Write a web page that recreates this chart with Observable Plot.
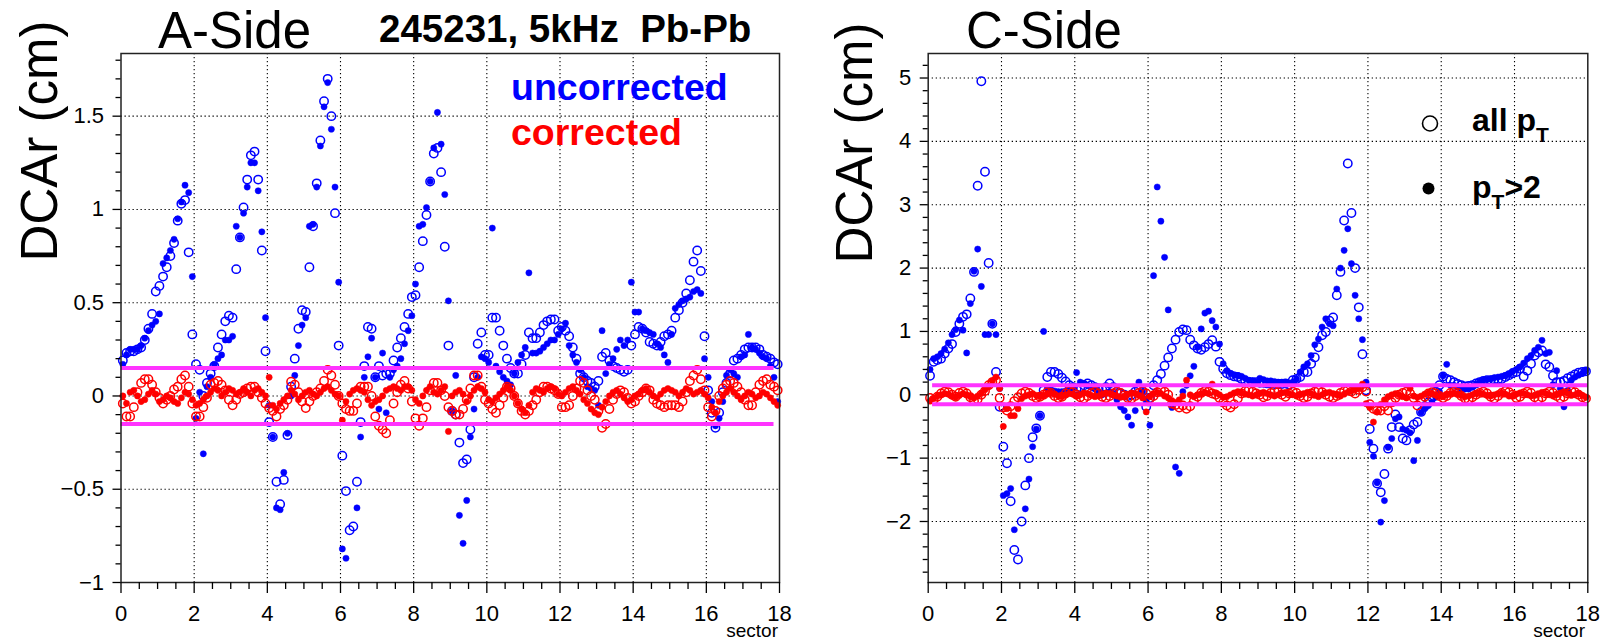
<!DOCTYPE html>
<html><head><meta charset="utf-8">
<script src="https://cdn.jsdelivr.net/npm/d3@7"></script>
<script src="https://cdn.jsdelivr.net/npm/@observablehq/plot@0.6"></script>
<style>
html,body{margin:0;padding:0;background:#fff;}
#wrap{position:relative;width:1600px;height:641px;overflow:hidden;background:#fff;}
.panel{position:absolute;top:0;width:800px;height:641px;}
</style></head>
<body><div id="wrap"><div id="pa" class="panel" style="left:0"></div><div id="pc" class="panel" style="left:800px"></div></div>
<script>
// ---------- data (DCAr in cm, 10 bins per sector, bins of 0.1 sector) ----------
const BIN = 0.1;
const sectorTicks = [0, 2, 4, 6, 8, 10, 12, 14, 16, 18];
const sectorMinor = [0.5,1,1.5,2.5,3,3.5,4.5,5,5.5,6.5,7,7.5,8.5,9,9.5,10.5,11,11.5,12.5,13,13.5,14.5,15,15.5,16.5,17,17.5];
const sectorGrid = [2, 4, 6, 8, 10, 12, 14, 16];

const A_yTicks = [-1, -0.5, 0, 0.5, 1, 1.5];
const A_yGrid = [-0.5, 0, 0.5, 1, 1.5];
const A_yMinor = [-0.9,-0.8,-0.7,-0.6,-0.4,-0.3,-0.2,-0.1,0.1,0.2,0.3,0.4,0.6,0.7,0.8,0.9,1.1,1.2,1.3,1.4,1.6,1.7,1.8];
const C_yTicks = [-2, -1, 0, 1, 2, 3, 4, 5];
const C_yGrid = [-2, -1, 0, 1, 2, 3, 4, 5];
const C_yMinor = [-2.8,-2.6,-2.4,-2.2,-1.8,-1.6,-1.4,-1.2,-0.8,-0.6,-0.4,-0.2,0.2,0.4,0.6,0.8,1.2,1.4,1.6,1.8,2.2,2.4,2.6,2.8,3.2,3.4,3.6,3.8,4.2,4.4,4.6,4.8,5.2];

// A-Side, uncorrected, all pT (open blue)
const A_uncorr_all = [
 0.19,0.23,0.24,0.24,0.25,0.26,0.30,0.36,0.44,0.56,
 0.59,0.64,0.69,0.75,0.82,0.94,1.03,1.05,0.77,0.33,
 0.17,0.14,0.00,0.07,0.12,0.16,0.26,0.33,0.40,0.43,
 0.42,0.68,0.85,1.01,1.16,1.29,1.31,1.16,0.78,0.24,
 -0.14,-0.22,-0.46,-0.58,-0.45,-0.21,0.05,0.20,0.36,0.46,
 0.45,0.69,0.91,1.14,1.37,1.58,1.70,1.50,0.98,0.27,
 -0.32,-0.51,-0.72,-0.70,-0.46,-0.14,0.16,0.37,0.36,0.10,
 0.16,0.11,0.12,0.12,0.19,0.26,0.31,0.37,0.44,0.53,
 0.54,0.69,0.83,0.97,1.15,1.30,1.33,1.20,0.80,0.27,
 -0.08,-0.10,-0.25,-0.36,-0.34,-0.18,0.10,0.28,0.34,0.22,
 0.22,0.42,0.42,0.35,0.27,0.20,0.15,0.12,0.12,0.17,
 0.22,0.34,0.31,0.31,0.34,0.38,0.40,0.41,0.41,0.35,
 0.37,0.35,0.32,0.26,0.20,0.12,0.10,0.08,0.07,0.05,
 0.08,0.21,0.23,0.19,0.16,0.15,0.14,0.13,0.14,0.27,
 0.33,0.37,0.36,0.34,0.29,0.28,0.27,0.29,0.32,0.33,
 0.35,0.42,0.46,0.50,0.55,0.62,0.72,0.78,0.67,0.32,
 0.03,-0.09,-0.17,-0.09,0.02,0.07,0.12,0.19,0.20,0.22,
 0.25,0.26,0.26,0.26,0.25,0.22,0.21,0.20,0.18,0.17];
// A-Side, uncorrected, pT>2 (filled blue)
const A_uncorr_pt2 = [
 0.17,0.22,0.25,0.25,0.25,0.27,0.31,0.35,0.38,0.40,
 0.44,0.71,0.74,0.78,0.84,0.95,1.04,1.13,1.09,0.64,
 -0.12,0.02,-0.31,0.05,0.10,0.17,0.20,0.22,0.30,0.30,
 0.32,0.91,0.85,0.98,1.12,1.25,1.25,1.10,0.88,0.42,
 -0.05,-0.22,-0.60,-0.61,-0.41,-0.20,0.00,0.11,0.27,0.38,
 0.42,0.91,0.92,1.12,1.34,1.55,1.68,1.43,1.12,0.61,
 -0.82,-0.87,null,null,-0.60,-0.22,0.10,0.21,0.31,0.10,
 -0.07,0.23,-0.09,0.10,0.14,0.16,0.20,0.28,0.35,0.43,
 0.60,0.91,0.92,1.01,1.15,1.33,1.52,1.35,1.08,0.51,
 -0.08,0.11,-0.64,-0.79,-0.56,-0.22,-0.07,0.10,0.21,0.20,
 0.18,0.90,0.16,0.13,0.10,0.08,0.06,0.12,0.18,0.22,
 0.26,0.66,0.23,0.23,0.24,0.26,0.28,0.30,0.30,0.33,
 0.36,0.39,0.27,0.22,0.18,0.14,0.10,0.05,0.04,0.03,
 -0.05,0.35,0.12,0.17,0.20,0.25,0.30,0.27,0.30,0.61,
 0.45,0.45,0.36,0.35,0.34,0.33,0.28,0.26,0.22,0.18,
 0.33,0.47,0.49,0.51,0.52,0.53,0.56,0.57,0.55,0.20,
 0.10,-0.03,-0.16,-0.12,-0.03,0.11,0.14,0.12,0.10,0.21,
 0.22,0.33,0.26,0.25,0.23,0.21,0.20,0.16,0.10,-0.03];
// A-Side, corrected, all pT (open red)
const A_corr_all = [
 -0.04,-0.11,-0.11,-0.06,0.02,0.07,0.09,0.09,0.06,0.02,
 -0.01,-0.04,-0.02,0.00,0.035,0.05,0.09,0.11,0.05,-0.04,
 -0.11,-0.11,-0.06,-0.01,0.06,0.07,0.08,0.06,0.03,-0.02,
 -0.05,-0.02,0.01,0.02,0.04,0.05,0.05,0.02,-0.01,-0.04,
 -0.065,-0.08,-0.11,-0.07,-0.05,-0.02,0.076,0.06,0.02,-0.03,
 -0.065,-0.03,0.00,0.02,0.04,0.08,0.14,0.11,0.06,0.00,
 -0.04,-0.07,-0.08,-0.08,-0.04,0.05,0.05,0.05,0.00,-0.11,
 -0.16,-0.18,-0.20,-0.13,-0.04,0.02,0.06,0.08,0.04,-0.03,
 -0.12,-0.16,-0.12,-0.06,0.03,0.07,0.07,0.03,0.00,-0.06,
 -0.08,-0.10,-0.10,-0.07,-0.02,0.04,0.11,0.11,0.05,-0.02,
 -0.04,-0.07,-0.09,-0.05,-0.01,0.05,0.04,0.00,-0.04,-0.08,
 -0.10,-0.08,-0.05,-0.02,0.02,0.05,0.05,0.04,0.03,0.01,
 -0.06,-0.06,-0.05,0.00,0.04,0.08,0.07,0.03,0.00,-0.02,
 -0.08,-0.17,-0.15,-0.07,-0.02,0.01,0.03,0.02,-0.01,-0.04,
 -0.03,0.00,0.02,0.04,0.03,-0.02,-0.04,-0.05,-0.06,-0.05,
 -0.05,-0.05,-0.06,-0.03,0.02,0.08,0.11,0.14,0.09,0.03,
 -0.06,-0.11,-0.08,0.00,0.04,0.06,0.08,0.07,0.05,0.02,
 -0.02,-0.05,-0.05,0.02,0.06,0.08,0.09,0.06,0.05,0.03];
// A-Side, corrected, pT>2 (filled red)
const A_corr_pt2 = [
 0.00,-0.04,0.02,0.03,0.00,-0.03,-0.02,0.01,0.03,0.01,
 -0.03,-0.02,0.00,-0.01,-0.03,-0.04,-0.01,0.02,0.01,-0.02,
 -0.05,-0.04,-0.02,0.00,0.02,0.04,0.03,0.00,0.02,0.04,
 0.03,0.01,0.02,0.04,0.02,0.00,0.03,0.04,0.02,0.00,
 0.10,-0.05,-0.07,-0.04,-0.02,0.00,0.03,0.01,-0.02,0.00,
 0.02,0.03,0.01,0.00,0.02,0.04,0.05,0.03,0.01,0.00,
 -0.13,-0.03,0.01,0.03,0.04,0.03,0.02,-0.02,-0.05,-0.03,
 -0.02,0.00,0.03,0.04,0.05,0.04,0.03,0.05,0.05,0.03,
 -0.02,-0.04,0.00,0.03,0.05,0.02,0.01,0.03,0.05,-0.19,
 0.00,0.02,0.03,0.01,-0.03,0.00,0.03,0.05,0.04,0.02,
 -0.02,-0.03,-0.01,0.01,0.03,0.05,0.03,0.00,-0.04,-0.07,
 -0.09,-0.05,0.02,0.04,0.03,0.02,0.04,0.05,0.04,0.01,
 0.00,0.02,0.04,0.05,0.03,0.01,-0.02,-0.04,-0.07,-0.09,
 -0.10,-0.06,-0.03,0.00,0.02,0.03,0.01,-0.01,-0.03,-0.02,
 0.00,0.01,0.03,0.04,0.02,0.00,-0.01,0.01,0.03,0.04,
 0.03,0.02,0.00,0.02,0.04,0.03,0.01,0.02,0.03,0.01,
 -0.01,-0.06,-0.09,-0.03,0.00,0.02,0.04,0.02,0.00,-0.02,
 0.00,0.02,0.01,-0.01,0.00,0.02,0.01,-0.01,-0.03,-0.05];

// C-Side, uncorrected, all pT (open blue)
const C_uncorr_all = [
 0.30,0.52,0.55,0.57,0.65,0.73,0.80,0.99,1.12,1.23,
 1.27,1.52,1.94,3.30,4.95,3.52,2.08,1.12,0.36,-0.19,
 -0.82,-1.08,-1.68,-2.45,-2.60,-2.00,-1.43,-1.00,-0.67,-0.53,
 -0.33,0.07,0.28,0.36,0.36,0.33,0.27,0.21,0.15,0.12,
 0.10,0.12,0.15,0.18,0.15,0.12,0.10,0.08,0.12,0.18,
 0.12,0.05,0.02,0.00,-0.02,0.00,0.05,0.10,0.05,-0.19,
 -0.05,0.15,0.23,0.33,0.46,0.59,0.73,0.87,0.99,1.03,
 1.02,0.87,0.78,0.73,0.71,0.75,0.80,0.86,0.76,0.52,
 0.41,0.34,0.31,0.29,0.28,0.25,0.22,0.20,0.20,0.20,
 0.19,0.19,0.18,0.18,0.17,0.17,0.17,0.18,0.16,0.23,
 0.25,0.28,0.36,0.36,0.49,0.59,0.75,0.94,0.99,1.17,
 1.22,1.57,1.94,2.75,3.65,2.87,2.00,1.38,0.64,0.07,
 -0.54,-0.85,-1.40,-1.54,-1.25,-0.85,-0.51,-0.31,-0.51,-0.69,
 -0.72,-0.56,-0.47,-0.43,-0.27,-0.18,-0.12,-0.04,0.05,0.15,
 0.29,0.25,0.23,0.20,0.17,0.15,0.13,0.14,0.15,0.18,
 0.20,0.22,0.23,0.23,0.24,0.24,0.25,0.28,0.31,0.34,
 0.36,0.41,0.29,0.38,0.49,0.62,0.67,0.70,0.48,0.44,
 0.30,0.20,0.20,0.22,0.26,0.29,0.32,0.35,0.36,0.37];
// C-Side, uncorrected, pT>2 (filled blue)
const C_uncorr_pt2 = [
 0.40,0.57,0.60,0.65,0.72,0.82,0.95,1.03,1.18,1.02,
 0.66,1.44,1.95,2.30,1.71,0.95,0.95,1.12,0.95,0.10,
 -1.59,-1.56,-1.48,-2.13,null,null,-1.80,-1.33,-0.82,-0.54,
 -0.33,1.00,0.10,0.08,0.06,0.05,0.05,0.06,0.08,0.12,
 0.35,0.20,0.18,0.15,0.12,0.10,0.05,0.00,0.02,0.05,
 0.02,-0.08,-0.19,-0.25,-0.35,-0.48,-0.25,0.20,0.05,-0.10,
 -0.48,1.88,3.28,2.74,2.17,1.34,-0.20,-1.14,-1.24,0.05,
 0.15,0.30,0.45,0.75,1.04,1.29,1.32,1.17,1.07,0.80,
 0.49,0.38,0.34,0.31,0.30,0.29,0.26,0.23,0.22,0.20,
 0.26,0.24,0.22,0.22,0.21,0.20,0.20,0.19,0.18,0.20,
 0.25,0.36,0.44,0.49,0.62,0.79,0.88,1.07,1.20,1.12,
 1.09,1.67,2.00,2.28,2.62,2.07,1.57,1.20,0.87,0.20,
 -0.75,-0.97,-1.39,-2.01,-1.67,-0.83,-0.69,-0.38,-0.35,-0.54,
 -0.56,-0.60,-1.04,-0.72,-0.28,-0.22,-0.17,-0.12,-0.04,0.05,
 0.30,0.48,0.15,0.15,0.12,0.09,0.09,0.09,0.12,0.17,
 0.20,0.23,0.24,0.25,0.27,0.28,0.29,0.30,0.32,0.37,
 0.40,0.44,0.50,0.57,0.62,0.70,0.75,0.86,0.65,0.67,
 0.16,0.38,0.10,-0.19,0.07,0.23,0.28,0.31,0.34,0.38];
// C-Side, corrected, all pT (open red)
const C_corr_all = [
 -0.05,-0.08,-0.03,0.02,0.05,0.04,0.00,-0.03,0.03,0.05,
 0.02,-0.04,-0.10,-0.07,0.00,0.06,0.15,0.20,0.23,-0.05,
 -0.20,-0.25,-0.18,-0.10,-0.04,0.02,0.05,0.03,-0.02,-0.05,
 -0.03,0.00,0.04,0.03,-0.02,-0.05,-0.03,0.02,0.06,0.04,
 0.00,-0.04,-0.06,-0.02,0.03,0.05,0.02,-0.03,-0.05,-0.02,
 0.02,0.05,0.03,-0.01,-0.05,-0.06,-0.02,0.03,0.06,0.02,
 -0.06,-0.02,0.04,0.08,0.05,0.00,-0.14,-0.16,-0.20,-0.17,
 -0.22,-0.18,-0.10,-0.03,0.03,0.06,0.05,0.02,0.00,-0.05,
 -0.12,-0.17,-0.20,-0.15,-0.06,0.02,0.06,0.08,0.05,0.02,
 0.00,-0.04,-0.02,0.03,0.06,0.04,0.00,-0.03,0.02,0.05,
 0.03,-0.02,-0.05,-0.03,0.02,0.05,0.07,0.04,0.00,-0.03,
 -0.05,-0.02,0.03,0.06,0.08,0.05,0.02,0.08,0.12,0.05,
 -0.15,-0.22,-0.25,-0.25,-0.18,-0.25,-0.12,-0.05,0.00,0.03,
 0.05,0.02,-0.05,-0.17,-0.10,-0.03,0.02,0.04,0.02,-0.02,
 -0.05,-0.02,0.03,0.05,0.03,-0.02,-0.06,-0.08,-0.04,0.00,
 0.03,0.05,0.02,-0.03,-0.06,-0.02,0.03,0.06,0.04,0.00,
 -0.05,-0.03,0.02,0.05,0.03,-0.04,-0.08,-0.04,0.02,0.05,
 0.03,-0.02,-0.06,-0.03,0.02,0.06,0.04,0.00,-0.04,-0.06];
// C-Side, corrected, pT>2 (filled red)
const C_corr_pt2 = [
 -0.10,-0.06,-0.02,0.00,0.02,0.01,-0.02,-0.04,-0.01,0.02,
 0.00,-0.03,-0.05,-0.02,0.02,0.08,0.14,0.22,0.28,0.10,
 -0.50,-0.22,-0.33,-0.33,-0.22,-0.06,-0.02,0.00,0.02,-0.01,
 -0.03,-0.01,0.02,0.03,0.01,-0.02,-0.03,0.00,0.02,0.01,
 -0.02,0.00,0.03,0.02,-0.01,-0.03,-0.02,0.01,0.03,0.02,
 0.00,-0.02,-0.04,-0.02,0.01,0.03,0.02,-0.01,-0.05,-0.27,
 -0.03,0.02,0.04,0.02,-0.02,-0.05,-0.09,-0.12,-0.08,-0.02,
 0.23,0.00,-0.03,0.00,0.02,0.04,0.02,0.17,0.03,0.00,
 -0.04,-0.03,0.00,0.03,0.05,0.03,0.01,0.00,-0.02,0.00,
 0.02,0.04,0.02,0.00,-0.02,0.00,0.03,0.04,0.02,0.00,
 -0.02,0.00,0.02,0.04,0.02,-0.01,-0.03,0.00,0.03,0.04,
 0.02,0.00,-0.02,0.01,0.04,0.06,0.08,0.10,0.17,-0.14,
 -0.20,-0.43,-0.27,-0.15,-0.08,-0.03,0.00,0.02,0.00,-0.03,
 -0.05,0.10,-0.02,-0.04,-0.02,0.01,0.03,0.02,0.00,-0.02,
 -0.03,0.00,0.02,0.03,0.01,-0.01,-0.03,-0.02,0.00,0.02,
 0.03,0.01,-0.01,-0.02,0.00,0.02,0.03,0.01,-0.02,-0.01,
 0.01,0.03,0.02,0.00,-0.02,-0.01,0.02,0.04,0.02,0.00,
 -0.02,0.00,0.03,0.05,0.02,-0.01,0.00,0.02,-0.01,-0.04];

// tolerance band (±0.15 cm)
const A_band = [{y: 0.15, x1: 0, x2: 17.85}, {y: -0.15, x1: 0, x2: 17.85}];
const C_band = [{y: 0.15, x1: 0.12, x2: 18}, {y: -0.15, x1: 0.12, x2: 18}];

// ---------- drawing ----------
const FONT = "'Liberation Sans', Arial, Helvetica, sans-serif";
const BLUE = "#0000ff", RED = "#ff0000", MAG = "#ff33ff";
const rows = vals => vals.map((v, i) => ({sector: (i + 0.5) * BIN, dca: v})).filter(d => d.dca != null);
const fmtY = d => (d < 0 ? "\u2212" + Math.abs(d) : String(d));

function panel(cfg) {
  const dotted = {stroke: "#000", strokeOpacity: 1, strokeWidth: 1.1, strokeDasharray: "1.3,2.7"};
  return Plot.plot({
    width: 800, height: 641,
    marginLeft: cfg.ml, marginRight: cfg.mr, marginTop: 53, marginBottom: 59,
    x: {domain: [0, 18]},
    y: {domain: cfg.ydom},
    style: {fontFamily: FONT, background: "#fff", color: "#000", overflow: "visible"},
    marks: [
      Plot.gridX(sectorGrid, dotted),
      Plot.gridY(cfg.yGrid, dotted),
      Plot.dot(rows(cfg.uAll), {x: "sector", y: "dca", r: 4.2, stroke: BLUE, strokeWidth: 1.5, fill: "none"}),
      Plot.dot(rows(cfg.uPt2), {x: "sector", y: "dca", r: 3.1, fill: BLUE, stroke: BLUE, strokeWidth: 0.5}),
      Plot.dot(rows(cfg.cAll), {x: "sector", y: "dca", r: 4.2, stroke: RED, strokeWidth: 1.5, fill: "none"}),
      Plot.dot(rows(cfg.cPt2), {x: "sector", y: "dca", r: 3.1, fill: RED, stroke: RED, strokeWidth: 0.5}),
      Plot.ruleY(cfg.band, {y: "y", x1: "x1", x2: "x2", stroke: MAG, strokeWidth: 4}),
      Plot.frame({stroke: "#222", strokeWidth: 1.5}),
      Plot.axisX(sectorTicks, {tickSize: 11, tickPadding: 12, fontSize: 22, label: null, tickFormat: d => String(d), strokeWidth: 1.3}),
      Plot.axisX(sectorMinor, {tickSize: 7, tickFormat: () => "", label: null, strokeWidth: 1.3}),
      Plot.axisY(cfg.yTicks, {tickSize: 8, tickPadding: 9, fontSize: 22, label: null, tickFormat: fmtY, strokeWidth: 1.3}),
      Plot.axisY(cfg.yMinor, {tickSize: 5, tickFormat: () => "", label: null, strokeWidth: 1.3})
    ]
  });
}

function addText(svg, x, y, str, opts = {}) {
  const t = d3.select(svg).append("text")
    .attr("x", x).attr("y", y)
    .attr("font-family", FONT)
    .attr("font-size", opts.size || 20)
    .attr("font-weight", opts.bold ? "bold" : "normal")
    .attr("fill", opts.fill || "#000")
    .attr("text-anchor", opts.anchor || "start")
    .style("white-space", "pre")
    .attr("xml:space", "preserve")
    .text(str);
  if (opts.rotate) t.attr("transform", `rotate(-90 ${x} ${y})`);
  return t;
}

const svgA = panel({
  ml: 120.5, mr: 21, ydom: [-1, 1.836],
  yTicks: A_yTicks, yGrid: A_yGrid, yMinor: A_yMinor,
  uAll: A_uncorr_all, uPt2: A_uncorr_pt2, cAll: A_corr_all, cPt2: A_corr_pt2, band: A_band
});
addText(svgA, 57, 141, "DCAr (cm)", {size: 51, anchor: "middle", rotate: true});
addText(svgA, 158, 48, "A-Side", {size: 51});
addText(svgA, 379, 42, "245231, 5kHz  Pb-Pb", {size: 38.5, bold: true});
addText(svgA, 511, 100, "uncorrected", {size: 37.5, bold: true, fill: BLUE});
addText(svgA, 511, 145, "corrected", {size: 37.5, bold: true, fill: RED});
addText(svgA, 778, 637, "sector", {size: 19, anchor: "end"});
document.getElementById("pa").appendChild(svgA);

const svgC = panel({
  ml: 127.7, mr: 12.7, ydom: [-2.963, 5.387],
  yTicks: C_yTicks, yGrid: C_yGrid, yMinor: C_yMinor,
  uAll: C_uncorr_all, uPt2: C_uncorr_pt2, cAll: C_corr_all, cPt2: C_corr_pt2, band: C_band
});
addText(svgC, 72, 143, "DCAr (cm)", {size: 51, anchor: "middle", rotate: true});
addText(svgC, 166, 48, "C-Side", {size: 51});
addText(svgC, 785, 637, "sector", {size: 19, anchor: "end"});
// legend
d3.select(svgC).append("circle").attr("cx", 630).attr("cy", 123.5).attr("r", 7.5)
  .attr("fill", "none").attr("stroke", "#000").attr("stroke-width", 1.6);
d3.select(svgC).append("circle").attr("cx", 628.5).attr("cy", 188.5).attr("r", 6).attr("fill", "#000");
const l1 = addText(svgC, 672, 131, "all p", {size: 32, bold: true});
l1.append("tspan").attr("dy", 11).attr("font-size", 21).text("T");
const l2 = addText(svgC, 672, 198, "p", {size: 32, bold: true});
l2.append("tspan").attr("dy", 11).attr("font-size", 21).text("T");
l2.append("tspan").attr("dy", -11).text(">2");
document.getElementById("pc").appendChild(svgC);
</script>
</body></html>
